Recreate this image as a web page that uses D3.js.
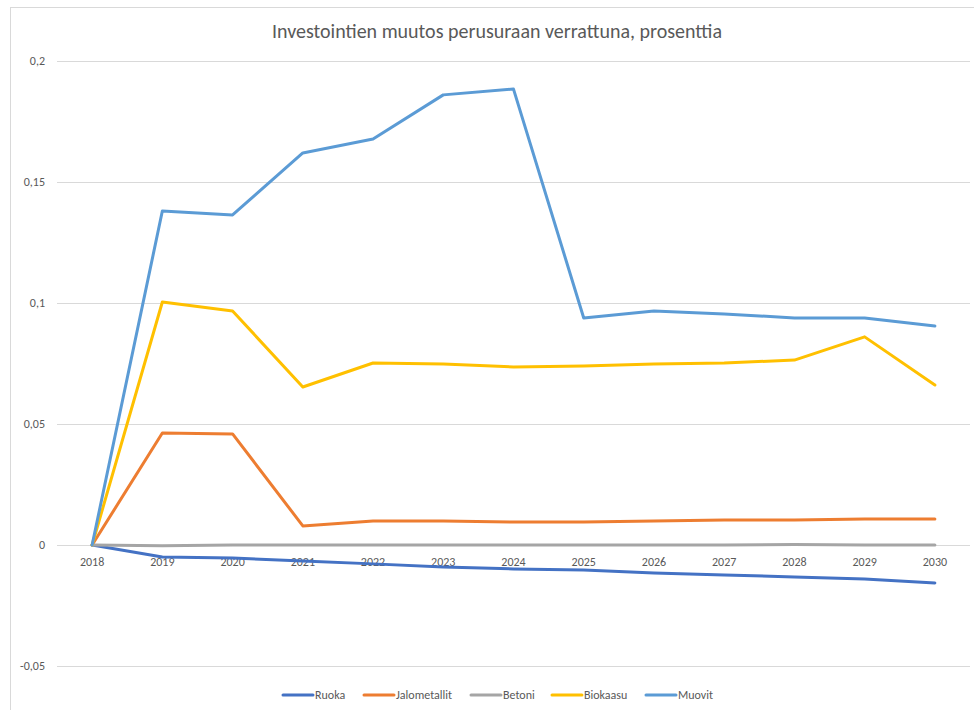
<!DOCTYPE html>
<html>
<head>
<meta charset="utf-8">
<script src="https://cdn.jsdelivr.net/npm/d3@7"></script>
<style>
	body { margin: 0; background: #fff; }
	text { font-family: Carlito, "Liberation Sans Narrow", "Liberation Sans", Arial, sans-serif; fill: #595959; }
</style>
</head>
<body>
<svg id="chart" width="974" height="710"></svg>
<script>
var years = ["2018","2019","2020","2021","2022","2023","2024","2025","2026","2027","2028","2029","2030"];
var yTicks = [-0.05, 0, 0.05, 0.1, 0.15, 0.2];

var ruoka = [0, -0.0050, -0.0054, -0.0066, -0.0078, -0.0091, -0.0099, -0.0103, -0.0116, -0.0124, -0.0132, -0.0140, -0.0157];
var jalometallit = [0, 0.0463, 0.0459, 0.0079, 0.0099, 0.0099, 0.0095, 0.0095, 0.0099, 0.0103, 0.0103, 0.0107, 0.0107];
var betoni = [0, -0.0003, 0.0000, 0.0000, 0.0000, 0.0000, 0.0000, 0.0000, 0.0000, 0.0000, 0.0002, 0.0000, 0.0000];
var biokaasu = [0, 0.1004, 0.0967, 0.0653, 0.0752, 0.0748, 0.0736, 0.0740, 0.0748, 0.0752, 0.0764, 0.0860, 0.0661];
var muovit = [0, 0.1380, 0.1364, 0.1620, 0.1678, 0.1860, 0.1884, 0.0938, 0.0967, 0.0955, 0.0938, 0.0938, 0.0905];

var series = [
	{ name: "Ruoka", values: ruoka, color: "#4472C4" },
	{ name: "Jalometallit", values: jalometallit, color: "#ED7D31" },
	{ name: "Betoni", values: betoni, color: "#A5A5A5" },
	{ name: "Biokaasu", values: biokaasu, color: "#FFC000" },
	{ name: "Muovit", values: muovit, color: "#5B9BD5" }
];

var svg = d3.select("#chart");

// outer chart frame
svg.append("rect")
	.attr("x", 10.5).attr("y", 7.5)
	.attr("width", 980).attr("height", 720)
	.attr("fill", "none").attr("stroke", "#d9d9d9");

var x = d3.scaleBand().domain(years).range([57, 970]);
var y = d3.scaleLinear().domain([-0.05, 0.2]).range([666, 61]);
var xc = function(d) { return x(d) + x.bandwidth() / 2; };

var fmt = function(v) { return String(+v.toFixed(2)).replace(".", ","); };

// gridlines
svg.append("g").selectAll("line")
	.data(yTicks)
	.enter().append("line")
	.attr("x1", 57).attr("x2", 970)
	.attr("y1", function(d) { return Math.round(y(d)) + 0.5; })
	.attr("y2", function(d) { return Math.round(y(d)) + 0.5; })
	.attr("stroke", "#d9d9d9").attr("stroke-width", 1);

// y labels
svg.append("g").selectAll("text")
	.data(yTicks)
	.enter().append("text")
	.attr("x", 45)
	.attr("y", function(d) { return y(d); })
	.attr("dy", "0.35em")
	.attr("text-anchor", "end")
	.style("font-size", "12px")
	.text(fmt);

// x labels sit just under the zero line
svg.append("g").selectAll("text")
	.data(years)
	.enter().append("text")
	.attr("x", xc)
	.attr("y", y(0) + 21)
	.attr("text-anchor", "middle")
	.style("font-size", "12px")
	.text(function(d) { return d; });

var line = d3.line()
	.x(function(d, i) { return xc(years[i]); })
	.y(function(d) { return y(d); });

svg.append("g").selectAll("path")
	.data(series)
	.enter().append("path")
	.attr("d", function(d) { return line(d.values); })
	.attr("fill", "none")
	.attr("stroke", function(d) { return d.color; })
	.attr("stroke-width", 3)
	.attr("stroke-linejoin", "round")
	.attr("stroke-linecap", "round");

// title
svg.append("text")
	.attr("x", 497).attr("y", 38)
	.attr("text-anchor", "middle")
	.style("font-size", "20px")
	.text("Investointien muutos perusuraan verrattuna, prosenttia");

// legend
var legendX = [283, 364, 471, 552, 646];
var lg = svg.append("g").selectAll("g")
	.data(series)
	.enter().append("g")
	.attr("transform", function(d, i) { return "translate(" + legendX[i] + ",695)"; });
lg.append("line")
	.attr("x1", 0).attr("x2", 30)
	.attr("stroke", function(d) { return d.color; })
	.attr("stroke-width", 3)
	.attr("stroke-linecap", "round");
lg.append("text")
	.attr("x", 32).attr("dy", "0.35em")
	.style("font-size", "12px")
	.text(function(d) { return d.name; });
</script>
</body>
</html>
